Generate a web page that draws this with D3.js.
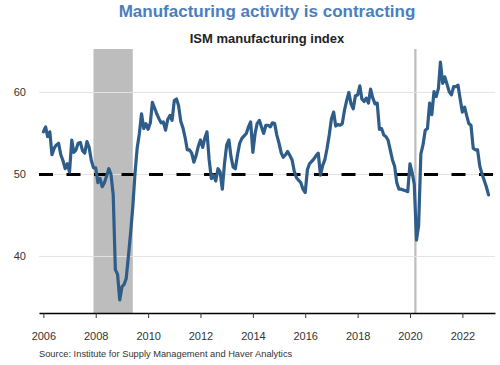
<!DOCTYPE html>
<html>
<head>
<meta charset="utf-8">
<script src="https://cdn.jsdelivr.net/npm/d3@7"></script>
<style>
  html, body { margin: 0; padding: 0; background: #fff; }
  svg { display: block; font-family: "Liberation Sans", Arial, sans-serif; }
</style>
</head>
<body>
<svg id="chart" width="500" height="365"></svg>
<script>
// ---- data (ISM manufacturing index, monthly, Jan 2006 – Jan 2023) ----
const startMonth = "2006-01";
const ism2006 = [55.2, 55.8, 54.6, 55.2, 52.4, 53.2, 53.6, 53.8, 52.4, 51.7, 50.7, 51.3];
const ism2007 = [50.3, 54.2, 52.7, 53.0, 53.8, 53.9, 52.9, 52.6, 54.0, 53.3, 51.7, 50.8];
const ism2008 = [50.8, 49.0, 49.5, 48.5, 49.0, 49.8, 50.7, 50.0, 47.5, 38.4, 37.8, 34.7];
const ism2009 = [36.3, 36.6, 37.3, 40.0, 42.8, 46.0, 50.0, 53.2, 55.0, 57.4, 55.6, 56.2];
const ism2010 = [55.5, 56.3, 58.8, 58.1, 57.4, 56.8, 56.3, 56.4, 55.4, 56.7, 57.2, 56.6];
const ism2011 = [59.0, 59.2, 58.4, 56.5, 55.7, 54.5, 53.0, 53.0, 52.6, 51.5, 52.3, 53.4];
const ism2012 = [54.2, 53.3, 54.4, 55.2, 51.8, 49.5, 49.9, 49.2, 50.7, 50.3, 48.2, 51.3];
const ism2013 = [53.6, 54.2, 52.2, 50.9, 50.7, 52.4, 53.8, 54.4, 54.7, 55.0, 55.8, 56.4];
const ism2014 = [52.7, 55.0, 56.2, 56.6, 55.8, 55.0, 56.0, 56.0, 55.8, 56.3, 56.2, 54.8];
const ism2015 = [53.8, 52.6, 52.1, 52.4, 52.8, 52.3, 51.8, 50.4, 49.6, 49.3, 49.0, 48.2];
const ism2016 = [47.8, 50.6, 51.3, 51.6, 51.9, 52.3, 52.6, 49.9, 51.1, 51.8, 53.2, 54.8];
const ism2017 = [56.8, 57.6, 55.9, 56.1, 56.0, 56.2, 57.8, 59.0, 60.0, 58.6, 58.0, 59.6];
const ism2018 = [59.7, 60.8, 59.2, 58.9, 59.3, 58.7, 60.4, 59.3, 58.6, 58.7, 55.5, 55.6];
const ism2019 = [54.8, 54.6, 54.2, 53.0, 51.8, 51.0, 49.0, 48.2, 48.2, 48.1, 48.0, 47.9];
const ism2020 = [51.3, 50.2, 48.8, 42.0, 43.8, 52.5, 53.6, 55.4, 55.6, 58.7, 57.3, 60.1];
const ism2021 = [59.5, 60.5, 63.7, 61.1, 61.9, 61.0, 60.1, 59.7, 60.7, 60.7, 60.9, 59.2];
const ism2022 = [57.6, 58.2, 57.2, 56.2, 56.0, 53.2, 53.0, 53.0, 51.0, 50.1, 49.3, 48.5];
const ism2023 = [47.5];
const ismValues = [].concat(ism2006, ism2007, ism2008, ism2009, ism2010, ism2011,
  ism2012, ism2013, ism2014, ism2015, ism2016, ism2017, ism2018, ism2019,
  ism2020, ism2021, ism2022, ism2023);

const recessions = [["2007-12", "2009-06"], ["2020-03", "2020-04"]];
const xTickYears = [2006, 2008, 2010, 2012, 2014, 2016, 2018, 2020, 2022];
const yTicks = [40, 50, 60];
const threshold = 50;
const xDomain = ["2005-11", "2023-04"];
const yDomain = [33.1, 65.3];

const titleText = "Manufacturing activity is contracting";
const subtitleText = "ISM manufacturing index";
const sourceText = "Source: Institute for Supply Management and Haver Analytics";

// ---- build ----
const parseMonth = d3.timeParse("%Y-%m");
const t0 = parseMonth(startMonth);
const series = ismValues.map((v, i) => ({ date: d3.timeMonth.offset(t0, i), value: v }));

const svg = d3.select("#chart");
const plotL = 39, plotR = 495, plotT = 49, plotB = 313;

const x = d3.scaleTime().domain(xDomain.map(parseMonth)).range([plotL, plotR]);
const y = d3.scaleLinear().domain(yDomain).range([plotB, plotT]);

// recession shading
svg.append("g").selectAll("rect").data(recessions).join("rect")
  .attr("x", d => x(parseMonth(d[0])))
  .attr("width", d => x(parseMonth(d[1])) - x(parseMonth(d[0])))
  .attr("y", plotT)
  .attr("height", plotB - plotT)
  .attr("fill", "#bdbdbd");

// gridlines
svg.append("g").selectAll("line").data(yTicks).join("line")
  .attr("x1", plotL).attr("x2", plotR)
  .attr("y1", d => y(d)).attr("y2", d => y(d))
  .attr("stroke", "#e3e3e3").attr("stroke-width", 1);

// y labels
svg.append("g").selectAll("text").data(yTicks).join("text")
  .attr("x", 26).attr("y", d => y(d)).attr("dy", "0.35em")
  .attr("text-anchor", "end")
  .attr("font-size", 11).attr("fill", "#333")
  .text(d => d);

// x axis
const xAxis = d3.axisBottom(x)
  .tickValues(xTickYears.map(yr => new Date(yr, 0, 1)))
  .tickFormat(d3.timeFormat("%Y"))
  .tickSize(5).tickSizeOuter(0);
const gx = svg.append("g").attr("transform", `translate(0,${plotB})`).call(xAxis);
gx.select(".domain").attr("stroke", "#000").attr("stroke-width", 1.5);
gx.selectAll(".tick line").attr("stroke", "#333");
gx.selectAll(".tick text").attr("font-size", 11).attr("fill", "#333")
  .attr("font-family", "Liberation Sans, Arial, sans-serif").attr("dy", "1.72em");

// 50 threshold dashed line
svg.append("line")
  .attr("x1", plotL).attr("x2", plotR)
  .attr("y1", y(threshold)).attr("y2", y(threshold))
  .attr("stroke", "#000").attr("stroke-width", 3)
  .attr("stroke-dasharray", "14,13.5");

// series line
const line = d3.line().x(d => x(d.date)).y(d => y(d.value));
svg.append("path").datum(series)
  .attr("d", line)
  .attr("fill", "none")
  .attr("stroke", "#2e5d8a")
  .attr("stroke-width", 3.2)
  .attr("stroke-linejoin", "round")
  .attr("stroke-linecap", "round");

// titles
svg.append("text").attr("x", 267).attr("y", 17).attr("text-anchor", "middle")
  .attr("font-size", 17).attr("font-weight", "bold").attr("fill", "#4a7ebf")
  .text(titleText);
svg.append("text").attr("x", 267).attr("y", 43).attr("text-anchor", "middle")
  .attr("font-size", 13).attr("font-weight", "bold").attr("fill", "#222")
  .text(subtitleText);

// source
svg.append("text").attr("x", 39).attr("y", 357)
  .attr("font-size", 9.3).attr("fill", "#333")
  .text(sourceText);
</script>
</body>
</html>
